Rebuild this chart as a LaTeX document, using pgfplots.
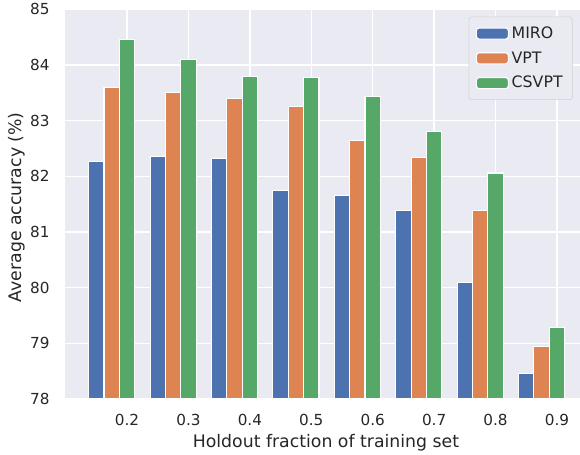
\documentclass[border=0pt]{standalone}
\usepackage{pgfplots}
\pgfplotsset{compat=1.18}
\usepackage{fontspec}
\setmainfont{DejaVu Sans}
\definecolor{sbblue}{HTML}{4C72B0}
\definecolor{sborange}{HTML}{DD8452}
\definecolor{sbgreen}{HTML}{55A868}
\definecolor{sbbg}{HTML}{EAEAF2}
\definecolor{sbtext}{HTML}{262626}
\begin{document}
\begin{tikzpicture}
\begin{axis}[
  name=ax,
  scale only axis,
  width=371bp, height=280.4bp,
  xmin=0.0985, xmax=0.9375,
  ymin=78, ymax=85,
  xtick={0.2,0.3,0.4,0.5,0.6,0.7,0.8,0.9},
  xticklabels={0.2,0.3,0.4,0.5,0.6,0.7,0.8,0.9},
  ytick={78,79,80,81,82,83,84,85},
  yticklabels={78,79,80,81,82,83,84,85},
  /pgf/number format/assume math mode=true,
  major tick length=0pt,
  axis background/.style={fill=sbbg},
  axis line style={draw=none},
  grid=major,
  major grid style={white, line width=1bp},
  ticklabel style={font=\fontsize{11}{13}\selectfont, text=sbtext},
  xticklabel style={yshift=-7.8bp},
  yticklabel style={xshift=-7.4bp},
  xlabel={Holdout fraction of training set},
  ylabel={Average accuracy (\%)},
  label style={font=\fontsize{12.5}{14}\selectfont, text=sbtext},
  xlabel style={at={(axis description cs:0.507,-0.0796)}, anchor=north},
  ylabel style={at={(axis description cs:-0.0682,0.492)}, anchor=south, rotate=0},
  legend style={at={(1,1)}, anchor=north east, xshift=-5.3bp, yshift=-5.2bp,
    fill=sbbg, draw=black!18, rounded corners=2bp,
    font=\fontsize{11.4}{13}\selectfont, text=sbtext,
    row sep=4bp, inner xsep=5bp, inner ysep=5bp},
  legend cell align=left,
  legend image code/.code={\fill[#1] (0bp,-4bp) rectangle (23bp,4bp);},
  clip=true,
]
\addplot[ybar, bar width=0.025, bar shift=0pt, fill=sbblue, draw=white, line width=0.8bp]
  coordinates {(0.15,82.26) (0.25,82.35) (0.35,82.32) (0.45,81.75) (0.55,81.66) (0.65,81.38) (0.75,80.09) (0.85,78.45)};
\addlegendentry{MIRO}
\addplot[ybar, bar width=0.025, bar shift=0pt, fill=sborange, draw=white, line width=0.8bp]
  coordinates {(0.175,83.59) (0.275,83.50) (0.375,83.40) (0.475,83.25) (0.575,82.65) (0.675,82.34) (0.775,81.39) (0.875,78.94)};
\addlegendentry{VPT}
\addplot[ybar, bar width=0.025, bar shift=0pt, fill=sbgreen, draw=white, line width=0.8bp]
  coordinates {(0.2,84.46) (0.3,84.10) (0.4,83.80) (0.5,83.78) (0.6,83.43) (0.7,82.81) (0.8,82.06) (0.9,79.29)};
\addlegendentry{CSVPT}
\end{axis}
\pgfresetboundingbox
\path[use as bounding box] ([xshift=-46.6bp,yshift=-40.3bp]ax.south west) rectangle ([yshift=6.8bp]ax.north east);
\end{tikzpicture}
\end{document}
